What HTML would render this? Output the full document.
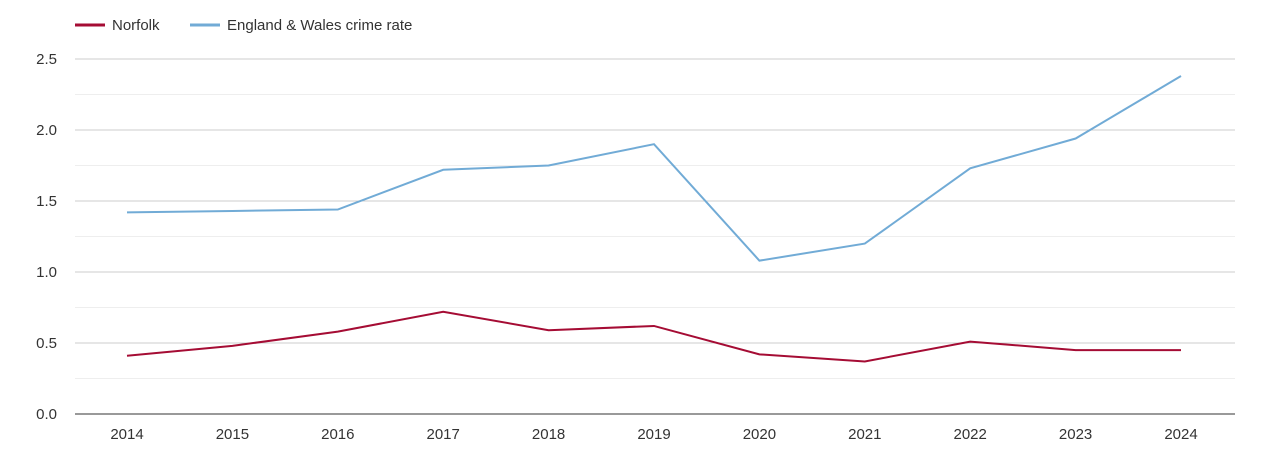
<!DOCTYPE html>
<html><head><meta charset="utf-8"><style>
body{margin:0;background:#fff;font-family:"Liberation Sans",sans-serif}
svg text{font-family:"Liberation Sans",sans-serif}
</style></head><body>
<svg id="c" width="1270" height="450"></svg>
<script>
const years=[2014,2015,2016,2017,2018,2019,2020,2021,2022,2023,2024];
const norfolk=[0.41,0.48,0.58,0.72,0.59,0.62,0.42,0.37,0.51,0.45,0.45];
const englandWales=[1.42,1.43,1.44,1.72,1.75,1.90,1.08,1.20,1.73,1.94,2.38];
const yTicks=[0,0.5,1.0,1.5,2.0,2.5];
const yMinor=[0.25,0.75,1.25,1.75,2.25];
const svg=document.getElementById('c');const NS='http://www.w3.org/2000/svg';
const x=i=>127+i*(1181-127)/(years.length-1);
const y=v=>414-v*(414-59)/2.5;
function mk(t,a,p){const e=document.createElementNS(NS,t);for(const k in a)e.setAttribute(k,a[k]);(p||svg).appendChild(e);return e;}
yMinor.forEach(v=>{const l=mk('line',{x1:75,x2:1235,y1:y(v),y2:y(v),stroke:'#eeeeee'});

});
yTicks.forEach(v=>{const l=mk('line',{x1:75,x2:1235,y1:y(v),y2:y(v),stroke:v===0?'#333':'#cccccc'});


const t=mk('text',{x:57,y:y(v)+5,'text-anchor':'end','font-size':15,fill:'#333'});t.textContent=v.toFixed(1);

});
years.forEach((yr,i)=>{const t=mk('text',{x:x(i),y:439,'text-anchor':'middle','font-size':15,fill:'#333'});t.textContent=yr;

});
function series(d,c,n){const p=mk('polyline',{points:d.map((v,i)=>x(i)+','+y(v)).join(' '),fill:'none',stroke:c,'stroke-width':2});

}
series(englandWales,'#71abd6','england-wales-line');
series(norfolk,'#a50c34','norfolk-line');
function leg(x0,c,txt,n){const g=mk('g',{});


mk('line',{x1:x0,x2:x0+30,y1:25,y2:25,stroke:c,'stroke-width':3},g);
const t=mk('text',{x:x0+37,y:30,'font-size':15,fill:'#333'},g);t.textContent=txt;}
leg(75,'#a50c34','Norfolk','legend-norfolk');
leg(190,'#71abd6','England & Wales crime rate','legend-england-wales');
</script>
</body></html>
